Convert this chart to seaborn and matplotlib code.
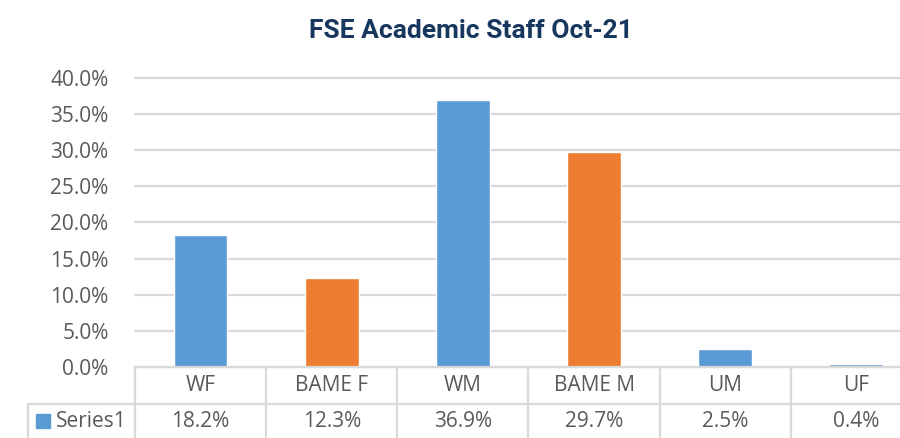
import matplotlib
matplotlib.use('Agg')
import matplotlib.pyplot as plt
import matplotlib.transforms as mtransforms
from matplotlib.ticker import FuncFormatter, MultipleLocator
import seaborn as sns

sns.set_style('white')
plt.rcParams['font.family'] = ['Open Sans', 'DejaVu Sans']

# Data
categories = ['WF', 'BAME F', 'WM', 'BAME M', 'UM', 'UF']
values = [0.182, 0.123, 0.369, 0.297, 0.025, 0.004]
value_labels = ['18.2%', '12.3%', '36.9%', '29.7%', '2.5%', '0.4%']
series_name = 'Series1'

blue = '#5B9BD5'
orange = '#ED7D31'
bar_colors = [blue, orange, blue, orange, blue, blue]
grid_col = '#D9D9D9'
text_col = '#595959'

fig = plt.figure(figsize=(9, 4.38), dpi=100)
# plot area runs past the right edge, like the cropped original
ax = fig.add_axes([0.15, 0.1621, 0.8744, 0.660])

sns.barplot(x=categories, y=values, hue=categories, palette=bar_colors,
            width=0.41, legend=False, ax=ax, saturation=1)

ax.set_xlim(-0.5, len(categories) - 0.5)
ax.set_ylim(0, 0.40)
ax.yaxis.set_major_locator(MultipleLocator(0.05))
ax.yaxis.set_major_formatter(FuncFormatter(lambda v, p: f'{v:.1%}'))
ax.grid(axis='y', color=grid_col, linewidth=1.6)
for gl in ax.get_ygridlines():
    gl.set_clip_on(False)
ax.set_axisbelow(True)
for s in ['top', 'right', 'left']:
    ax.spines[s].set_visible(False)
ax.spines['bottom'].set_color(grid_col)
ax.spines['bottom'].set_linewidth(1.6)
ax.tick_params(axis='y', length=0, pad=19, labelsize=15, labelcolor=text_col)
ax.set_xticks([])
ax.set_xlabel('')
ax.set_ylabel('')

# data table under the chart (Excel style)
trans = mtransforms.blended_transform_factory(ax.transData, ax.transAxes)
row1 = -0.128
bottom = -0.30
left_x = -1.318
n = len(categories)
line_kw = dict(color=grid_col, linewidth=1.6, transform=trans, clip_on=False)
for i in range(n + 1):
    ax.plot([i - 0.5, i - 0.5], [0, bottom], **line_kw)
ax.plot([left_x, n - 0.5], [row1, row1], **line_kw)
ax.plot([left_x, left_x], [row1, bottom], **line_kw)

for i, (cat, lab) in enumerate(zip(categories, value_labels)):
    ax.text(i, -0.064, cat, ha='center', va='center', fontsize=15,
            color=text_col, transform=trans)
    ax.text(i, -0.187, lab, ha='center', va='center', fontsize=15,
            color=text_col, transform=trans)
ax.plot([-1.203], [-0.187], marker='s', markersize=10, color=blue,
        transform=trans, clip_on=False)
ax.text(-1.104, -0.187, series_name, ha='left', va='center', fontsize=15,
        color=text_col, transform=trans)

fig.text(471 / 900, 1 - 31 / 438, 'FSE Academic Staff Oct-21', ha='center',
         va='center', fontsize=19, fontweight='bold', color='#17375E',
         family=['Roboto', 'DejaVu Sans'])

fig.savefig('out.png', dpi=100)
